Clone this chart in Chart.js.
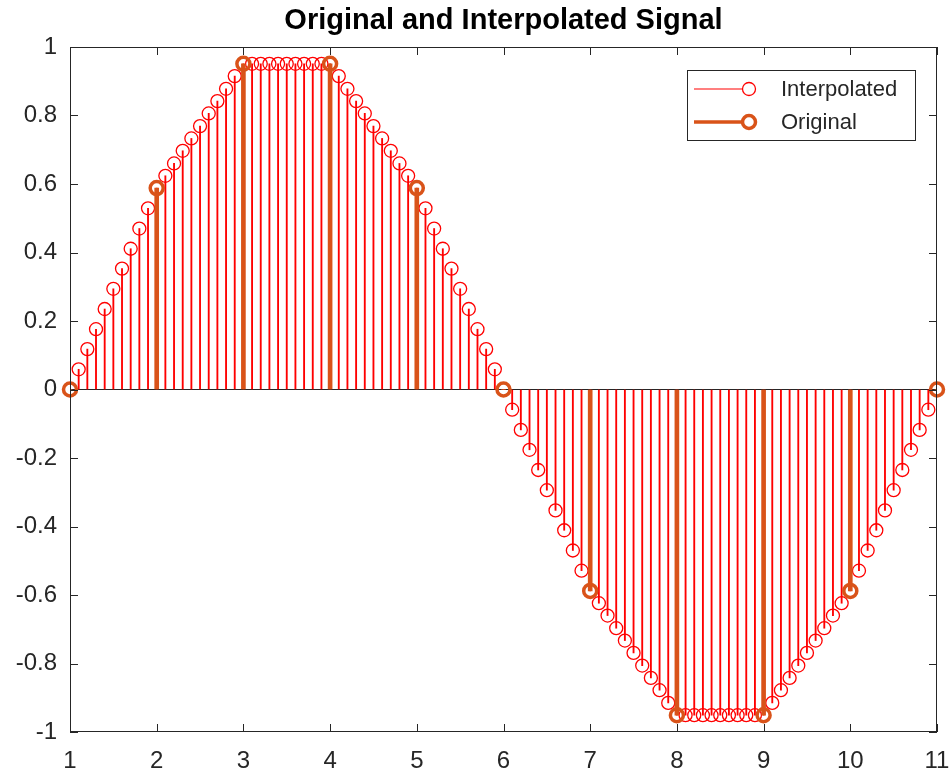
<!DOCTYPE html>
<html>
<head>
<meta charset="utf-8">
<script src="https://cdn.jsdelivr.net/npm/chart.js@4/dist/chart.umd.min.js"></script>
<style>
  body { margin: 0; background: #fff; }
  #wrap { width: 951px; height: 774px; }
</style>
</head>
<body>
<div id="wrap"><canvas id="myChart" width="951" height="774"></canvas></div>
<script>
// Data
const origX = [1, 2, 3, 4, 5, 6, 7, 8, 9, 10, 11];
const origY = [0, 0.588, 0.951, 0.951, 0.588, 0, -0.588, -0.951, -0.951, -0.588, 0];

const interpX = [
  1, 1.1, 1.2, 1.3, 1.4, 1.5, 1.6, 1.7, 1.8, 1.9,
  2, 2.1, 2.2, 2.3, 2.4, 2.5, 2.6, 2.7, 2.8, 2.9,
  3, 3.1, 3.2, 3.3, 3.4, 3.5, 3.6, 3.7, 3.8, 3.9,
  4, 4.1, 4.2, 4.3, 4.4, 4.5, 4.6, 4.7, 4.8, 4.9,
  5, 5.1, 5.2, 5.3, 5.4, 5.5, 5.6, 5.7, 5.8, 5.9,
  6, 6.1, 6.2, 6.3, 6.4, 6.5, 6.6, 6.7, 6.8, 6.9,
  7, 7.1, 7.2, 7.3, 7.4, 7.5, 7.6, 7.7, 7.8, 7.9,
  8, 8.1, 8.2, 8.3, 8.4, 8.5, 8.6, 8.7, 8.8, 8.9,
  9, 9.1, 9.2, 9.3, 9.4, 9.5, 9.6, 9.7, 9.8, 9.9,
  10, 10.1, 10.2, 10.3, 10.4, 10.5, 10.6, 10.7, 10.8, 10.9,
  11
];
const interpY = [
  0, 0.059, 0.118, 0.176, 0.235, 0.294, 0.353, 0.411, 0.470, 0.529,
  0.588, 0.624, 0.660, 0.697, 0.733, 0.769, 0.806, 0.842, 0.878, 0.915,
  0.951, 0.951, 0.951, 0.951, 0.951, 0.951, 0.951, 0.951, 0.951, 0.951,
  0.951, 0.915, 0.878, 0.842, 0.806, 0.769, 0.733, 0.697, 0.660, 0.624,
  0.588, 0.529, 0.470, 0.411, 0.353, 0.294, 0.235, 0.176, 0.118, 0.059,
  0, -0.059, -0.118, -0.176, -0.235, -0.294, -0.353, -0.411, -0.470, -0.529,
  -0.588, -0.624, -0.660, -0.697, -0.733, -0.769, -0.806, -0.842, -0.878, -0.915,
  -0.951, -0.951, -0.951, -0.951, -0.951, -0.951, -0.951, -0.951, -0.951, -0.951,
  -0.951, -0.915, -0.878, -0.842, -0.806, -0.769, -0.733, -0.697, -0.660, -0.624,
  -0.588, -0.529, -0.470, -0.411, -0.353, -0.294, -0.235, -0.176, -0.118, -0.059,
  0
];

const xTicks = [1, 2, 3, 4, 5, 6, 7, 8, 9, 10, 11];
const yTicks = [-1, -0.8, -0.6, -0.4, -0.2, 0, 0.2, 0.4, 0.6, 0.8, 1];

const seriesNames = ['Interpolated', 'Original'];
const seriesColors = ['#FF0000', '#D95319'];

const axisColor = '#262626';
const fontFamily = '"Liberation Sans", Arial, Helvetica, sans-serif';

const interpPts = interpX.map((x, i) => ({ x: x, y: interpY[i] }));
const origPts = origX.map((x, i) => ({ x: x, y: origY[i] }));

// Rámeček os s tiky dovnitř (jako v MATLABu)
const boxPlugin = {
  id: 'axesBox',
  afterDraw(chart) {
    const { ctx, chartArea: a, scales } = chart;
    const len = 8;
    ctx.save();
    ctx.strokeStyle = axisColor;
    ctx.lineWidth = 1;
    ctx.strokeRect(a.left + 0.5, a.top + 0.5, a.right - a.left - 1, a.bottom - a.top - 1);
    ctx.beginPath();
    xTicks.forEach(v => {
      const px = Math.round(scales.x.getPixelForValue(v)) + 0.5;
      ctx.moveTo(px, a.bottom); ctx.lineTo(px, a.bottom - len);
      ctx.moveTo(px, a.top); ctx.lineTo(px, a.top + len);
    });
    yTicks.forEach(v => {
      const py = Math.round(scales.y.getPixelForValue(v)) + 0.5;
      ctx.moveTo(a.left, py); ctx.lineTo(a.left + len, py);
      ctx.moveTo(a.right, py); ctx.lineTo(a.right - len, py);
    });
    ctx.stroke();
    ctx.restore();
  }
};

// Legenda uvnitř grafu vpravo nahoře
const legendPlugin = {
  id: 'innerLegend',
  afterDraw(chart) {
    const { ctx, chartArea: a } = chart;
    const w = 228, h = 70;
    const x0 = a.right - 22 - w, y0 = a.top + 23;
    ctx.save();
    ctx.fillStyle = '#fff';
    ctx.fillRect(x0, y0, w, h);
    ctx.strokeStyle = axisColor;
    ctx.lineWidth = 1;
    ctx.strokeRect(x0 + 0.5, y0 + 0.5, w, h);
    const rows = [
      { y: y0 + 19, lw: 1.2, pw: 1.3 },
      { y: y0 + 52, lw: 3.5, pw: 3.5 }
    ];
    rows.forEach((r, i) => {
      ctx.strokeStyle = seriesColors[i];
      ctx.lineWidth = r.lw;
      ctx.beginPath();
      ctx.moveTo(x0 + 7, r.y);
      ctx.lineTo(x0 + 56, r.y);
      ctx.stroke();
      ctx.lineWidth = r.pw;
      ctx.beginPath();
      ctx.arc(x0 + 62, r.y, 6.5, 0, Math.PI * 2);
      ctx.stroke();
      ctx.fillStyle = axisColor;
      ctx.font = '22px ' + fontFamily;
      ctx.textBaseline = 'middle';
      ctx.fillText(seriesNames[i], x0 + 94, r.y + 1);
    });
    ctx.restore();
  }
};

document.addEventListener('DOMContentLoaded', function () {
  const ctx = document.getElementById('myChart').getContext('2d');
  new Chart(ctx, {
    type: 'bar',
    data: {
      datasets: [
        {
          type: 'bar', label: seriesNames[0] + ' stems', data: interpPts,
          backgroundColor: seriesColors[0], barThickness: 1.2, grouped: false, order: 4
        },
        {
          type: 'line', label: seriesNames[0], data: interpPts, showLine: false,
          pointStyle: 'circle', pointRadius: 6.5, pointBorderWidth: 1.3,
          pointBorderColor: seriesColors[0], pointBackgroundColor: 'rgba(0,0,0,0)',
          clip: false, order: 3
        },
        {
          type: 'bar', label: seriesNames[1] + ' stems', data: origPts,
          backgroundColor: seriesColors[1], barThickness: 4, grouped: false, order: 2
        },
        {
          type: 'line', label: seriesNames[1], data: origPts, showLine: false,
          pointStyle: 'circle', pointRadius: 6.5, pointBorderWidth: 3.5,
          pointBorderColor: seriesColors[1], pointBackgroundColor: 'rgba(0,0,0,0)',
          clip: false, order: 1
        }
      ]
    },
    options: {
      responsive: false,
      animation: false,
      layout: { padding: { left: 0, right: 0, top: 0, bottom: 0 } },
      plugins: {
        legend: { display: false },
        tooltip: { enabled: false },
        title: {
          display: true,
          fullSize: false,
          text: 'Original and Interpolated Signal',
          color: '#000',
          font: { family: fontFamily, size: 29, weight: 'bold' },
          padding: { top: 4, bottom: 8.2 }
        }
      },
      scales: {
        x: {
          type: 'linear', min: 1, max: 11, offset: false,
          afterBuildTicks: s => { s.ticks = xTicks.map(v => ({ value: v })); },
          afterFit: s => { s.height = 42; s.paddingRight = 14; s.paddingLeft = 0; },
          grid: { display: false, drawTicks: false },
          border: { display: false },
          ticks: {
            color: axisColor, padding: 15, maxRotation: 0,
            font: { family: fontFamily, size: 24 },
            callback: v => String(v)
          }
        },
        y: {
          type: 'linear', min: -1, max: 1,
          afterBuildTicks: s => { s.ticks = yTicks.map(v => ({ value: v })); },
          afterFit: s => { s.width = 70; },
          grid: {
            drawTicks: false,
            color: c => (c.tick && c.tick.value === 0 ? axisColor : 'rgba(0,0,0,0)'),
            lineWidth: 1
          },
          border: { display: false },
          ticks: {
            color: axisColor, padding: 13,
            font: { family: fontFamily, size: 24 },
            callback: v => String(v)
          }
        }
      }
    },
    plugins: [boxPlugin, legendPlugin]
  });
});
</script>
</body>
</html>
